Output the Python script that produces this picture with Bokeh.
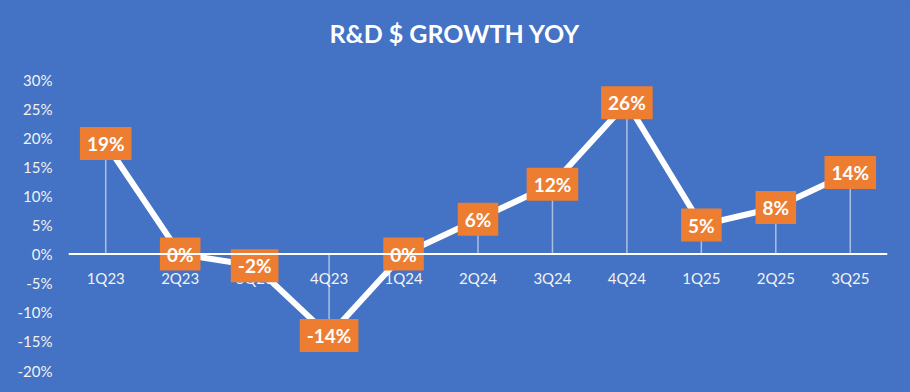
from bokeh.plotting import figure
from bokeh.models import FactorRange, Range1d, Span, FixedTicker, InlineStyleSheet, Title
from bokeh.core.properties import value
from bokeh.embed import file_html
from bokeh.resources import INLINE

# ---- data ----
categories = ["1Q23", "2Q23", "3Q23", "4Q23", "1Q24", "2Q24", "3Q24", "4Q24", "1Q25", "2Q25", "3Q25"]
growth = [19, 0, -2, -14, 0, 6, 12, 26, 5, 8, 14]
y_ticks = [-20, -15, -10, -5, 0, 5, 10, 15, 20, 25, 30]
title_text = "R&D $ GROWTH YOY"

BLUE = "#4472C4"
ORANGE = "#ED7D31"
FONT = "Lato"

p = figure(
    width=910, height=392,
    x_range=FactorRange(*categories, range_padding=0),
    y_range=Range1d(-20, 30),
    output_backend="svg", toolbar_location=None,
    min_border_left=68, min_border_right=23, min_border_top=79, min_border_bottom=22,
)
p.background_fill_color = BLUE
p.border_fill_color = BLUE
p.outline_line_color = None
p.grid.visible = False
p.xaxis.visible = False
p.stylesheets = [InlineStyleSheet(css=f":host {{ background-color: {BLUE}; }}")]

# spacer between the frame and the title (closest to frame), then the title
p.add_layout(Title(text=" ", text_font_size="10px", standoff=19), "above")
p.add_layout(Title(text=title_text, align="left", offset=261, vertical_align="bottom",
                   standoff=0, text_color="white", text_font=FONT,
                   text_font_style="bold", text_font_size="25px"), "above")

ya = p.yaxis[0]
ya.ticker = FixedTicker(ticks=y_ticks)
ya.major_label_overrides = {t: f"{t}%" for t in y_ticks}
ya.axis_line_color = None
ya.major_tick_line_color = None
ya.minor_tick_line_color = None
ya.major_tick_in = 0
ya.major_tick_out = 0
ya.major_label_standoff = 16
ya.major_label_text_color = "#F2F2F2"
ya.major_label_text_font = FONT
ya.major_label_text_font_size = "15px"

# drop lines from each point to the zero axis
cats_nz = [c for c, v in zip(categories, growth) if v != 0]
vals_nz = [v for v in growth if v != 0]
p.segment(x0=cats_nz, y0=[0] * len(cats_nz), x1=cats_nz, y1=vals_nz,
          line_color="white", line_alpha=0.55, line_width=1.5)

# zero axis line
p.add_layout(Span(location=0, dimension="width", line_color="white", line_width=2))

# category labels just under the zero line
p.text(x=categories, y=[0] * len(categories), text=categories,
       y_offset=24, text_align="center", text_baseline="middle",
       text_color="#F2F2F2", text_font=value(FONT), text_font_size="15px")

# main line
p.line(x=categories, y=growth, line_color="white", line_width=6, line_join="round")

# data labels in orange boxes
p.text(x=categories, y=growth, text=[f"{v}%" for v in growth],
       text_align="center", text_baseline="middle",
       text_color="white", text_font=value(FONT), text_font_style="bold",
       text_font_size="19px",
       background_fill_color=ORANGE, padding=(7, 5))

html = file_html(p, INLINE)
html = html.replace("<body>", f'<body style="background-color:{BLUE};">', 1)
open("out.html", "w").write(html)
